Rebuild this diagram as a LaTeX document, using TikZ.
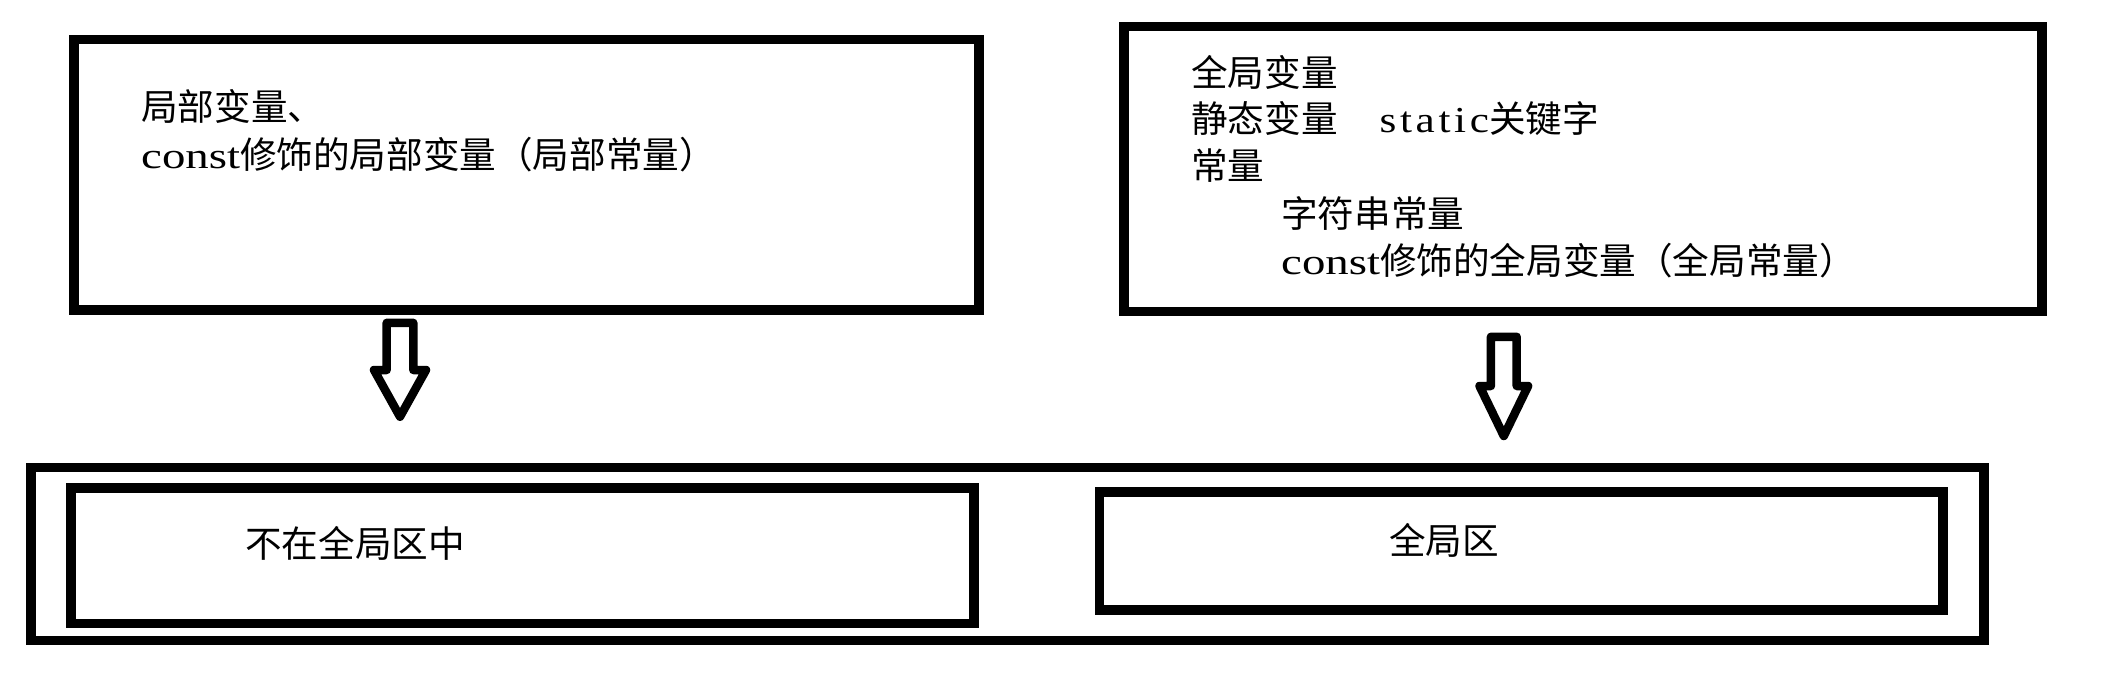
\documentclass[tikz,border=0pt]{standalone}
\usepackage{fontspec}
\setmainfont{Noto Sans CJK SC}
\newfontfamily\latA[FakeStretch=1.28]{Liberation Serif}
\newfontfamily\latB[FakeStretch=1.18,LetterSpace=10]{Liberation Serif}
\begin{document}
\begin{tikzpicture}[x=1pt,y=-1pt,
  box/.style={draw=black,line width=9.5pt,inner sep=0pt,fill=none},
  txt/.style={anchor=base west,inner sep=0pt,font=\fontsize{36.6}{44}\selectfont},
  blockarr/.style={draw=black,line width=8.5pt,line join=round}]
\useasboundingbox[fill=white] (0,0) rectangle (2113,698);
% boxes
\node[box,minimum width=904.8pt,minimum height=270.5pt] (tl) at (526.6,174.55) {};
\node[box,minimum width=917.8pt,minimum height=285pt] (tr) at (1583.1,168.8) {};
\node[box,minimum width=1952.8pt,minimum height=172.8pt] (outer) at (1007.6,553.9) {};
\node[box,minimum width=903pt,minimum height=135.7pt] (bl) at (522.3,555.85) {};
\node[box,minimum width=843.5pt,minimum height=118pt] (br) at (1521.25,551.1) {};
% texts
\node[txt] (t1) at (141,120.6) {局部变量、};
\node[txt] (t2) at (141,168.9) {{\latA const}修饰的局部变量（局部常量）};
\node[txt] (r1) at (1191,86.4) {全局变量};
\node[txt] (r2) at (1191,132.9) {静态变量\hspace*{42pt}{\latB static}关键字};
\node[txt] (r3) at (1191,179.9) {常量};
\node[txt] (r4) at (1281,227.9) {字符串常量};
\node[txt] (r5) at (1281,274.9) {{\latA const}修饰的全局变量（全局常量）};
\node[txt] (b1) at (245,557.9) {不在全局区中};
\node[txt] (b2) at (1389,554.9) {全局区};
% block arrows
\coordinate (a1) at (400,322.8);
\coordinate (a2) at (1503.8,336.8);
\draw[blockarr] (a1) ++(-13.3,0) -- ++(0,47.2) -- ++(-12.7,0) -- ++(26,46.7)
  -- ++(26,-46.7) -- ++(-12.7,0) -- ++(0,-47.2) -- cycle;
\draw[blockarr] (a2) ++(-12.9,0) -- ++(0,49.2) -- ++(-11.4,0) -- ++(24.3,50)
  -- ++(24.3,-50) -- ++(-11.4,0) -- ++(0,-49.2) -- cycle;
\end{tikzpicture}
\end{document}
